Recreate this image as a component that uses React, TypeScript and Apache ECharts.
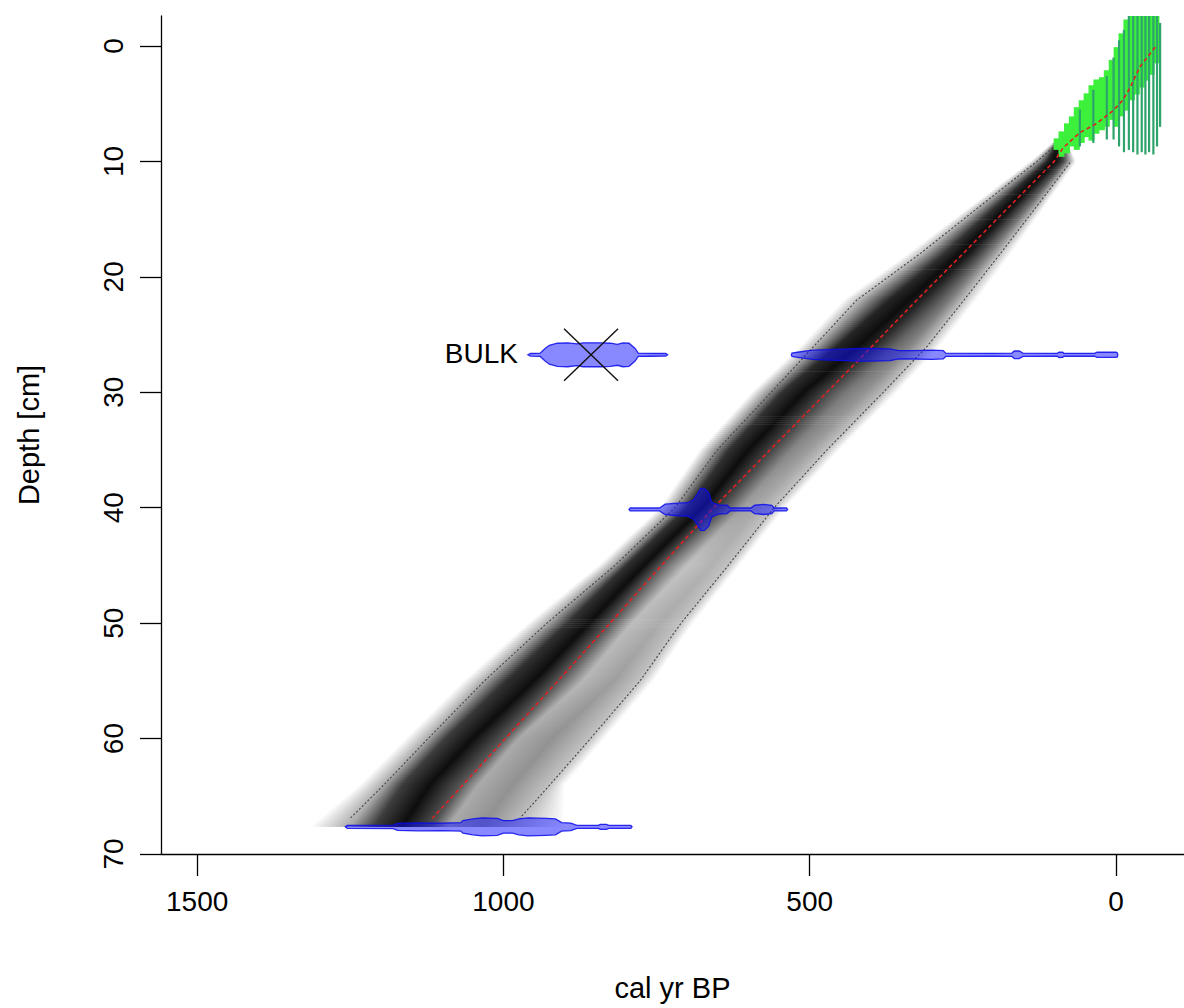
import React, { useEffect, useRef } from "react";
import * as echarts from "echarts";

// ---------- axes ----------
const X_TICKS = [0, 500, 1000, 1500];
const Y_TICKS = [0, 10, 20, 30, 40, 50, 60, 70];
const X_MIN = -111;
const X_MAX = 1559;
const Y_MIN = -2.6;
const Y_MAX = 70;

// ---------- mean age-depth (red dashed) ----------
const MEAN_DEPTH = [0.1, 1.8, 3.6, 4.7, 5.6, 6.7, 7.5, 8.8, 10, 14, 18, 22, 26, 30, 35, 40, 45, 50, 55, 60, 64, 66.9];
const MEAN_AGE = [-64, -39, -23, -11, 5, 31, 59, 86, 101, 176, 250, 325, 398, 472, 565, 657, 742, 826, 911, 997, 1066, 1116];

// ---------- 95% ranges (grey dotted) ----------
const OLD95_DEPTH = [8.8, 10, 14, 18, 22, 26, 30, 35, 40, 45, 50, 55, 60, 64, 66.9];
const OLD95_AGE = [103, 129, 225, 320, 423, 493, 563, 651, 720, 818, 929, 1031, 1123, 1195, 1250];
const YOUNG95_DEPTH = [10.1, 14, 18, 22, 26, 30, 35, 40, 45, 50, 55, 60, 64, 66.9];
const YOUNG95_AGE = [75, 131, 189, 248, 308, 380, 472, 558, 633, 710, 777, 858, 924, 973];

// ---------- grey-scale density rows (ages of profile stops, young -> old) ----------
const GREY_DEPTH = [8.4, 10, 14, 18, 22, 26, 30, 35, 40, 45, 50, 55, 60, 64, 67.6];
const GREY_AGES = [
  [78, 82, 85, 88, 90, 93, 96, 100, 104],
  [65, 75, 85, 92, 97, 103, 112, 129, 140],
  [118, 131, 145, 158, 168, 180, 198, 225, 240],
  [172, 189, 208, 225, 240, 256, 280, 320, 340],
  [228, 248, 272, 292, 315, 338, 370, 423, 445],
  [288, 308, 335, 360, 390, 420, 455, 493, 515],
  [358, 380, 410, 440, 470, 510, 545, 563, 595],
  [452, 472, 500, 530, 560, 600, 632, 651, 680],
  [540, 558, 585, 610, 640, 675, 700, 720, 745],
  [615, 633, 660, 700, 735, 770, 800, 818, 845],
  [690, 710, 745, 790, 820, 860, 895, 929, 960],
  [755, 777, 820, 870, 905, 950, 995, 1031, 1065],
  [835, 858, 920, 975, 1000, 1050, 1095, 1123, 1160],
  [900, 924, 985, 1040, 1070, 1120, 1165, 1195, 1235],
  [900, 973, 1035, 1090, 1115, 1165, 1210, 1250, 1315],
];
const GREY_DARK = [
  [0, 0.4, 0.7, 0.85, 0.95, 1, 0.9, 0.4, 0],
  [0, 0.35, 0.75, 0.9, 0.97, 1, 0.9, 0.35, 0],
  [0, 0.3, 0.6, 0.8, 0.95, 1, 0.85, 0.3, 0],
  [0, 0.25, 0.55, 0.78, 0.95, 1, 0.85, 0.25, 0],
  [0, 0.25, 0.55, 0.72, 0.9, 1, 0.9, 0.25, 0],
  [0, 0.25, 0.5, 0.62, 0.85, 1, 0.9, 0.3, 0],
  [0, 0.28, 0.45, 0.55, 0.75, 1, 0.85, 0.5, 0],
  [0, 0.25, 0.4, 0.5, 0.75, 1, 0.85, 0.5, 0],
  [0, 0.25, 0.35, 0.4, 0.7, 1, 0.85, 0.4, 0],
  [0, 0.25, 0.32, 0.25, 0.6, 1, 0.85, 0.4, 0],
  [0, 0.25, 0.35, 0.28, 0.65, 1, 0.85, 0.35, 0],
  [0, 0.25, 0.4, 0.3, 0.65, 1, 0.85, 0.35, 0],
  [0, 0.25, 0.45, 0.35, 0.7, 1, 0.8, 0.35, 0],
  [0, 0.25, 0.45, 0.35, 0.7, 1, 0.8, 0.35, 0],
  [0, 0.25, 0.45, 0.35, 0.7, 1, 0.8, 0.35, 0],
];

// ---------- 210Pb section (green) ----------
const GREEN_AGE = [97, 89, 80, 72, 64, 56, 48, 40, 32, 23, 15, 7, -1, -9, -17, -26, -34, -42, -50, -58, -66];
const GREEN_TOP = [8.0, 7.4, 6.7, 6.1, 5.3, 4.7, 4.1, 3.4, 2.9, 2.7, 2.1, 1.2, 0.1, -1.1, -2.3, -2.6, -2.6, -2.6, -2.6, -2.6, -2.6];
const GREEN_BOTTOM = [9.0, 9.6, 9.3, 8.7, 9.0, 8.4, 7.9, 8.2, 7.6, 7.3, 7.0, 6.4, 7.0, 6.1, 5.6, 4.7, 4.2, 3.6, 3.0, 2.5, 1.5];
const TEAL_AGE = [59, 37, 15, 4, -5, -13, -21, -28, -35, -42, -48, -54, -61, -67, -72];
const TEAL_TOP = [5.5, 3.8, 2.6, 1.0, -0.5, -1.4, -2.6, -2.6, -2.6, -2.6, -2.6, -2.6, -2.6, -2.6, -2.0];
const TEAL_BOTTOM = [8.7, 8.4, 8.1, 8.1, 8.7, 9.2, 9.0, 9.2, 9.4, 9.2, 9.4, 9.2, 9.4, 8.7, 7.0];

// ---------- dated levels (calibrated probability distributions) ----------
const DATE_DEPTH = [26.75, 26.75, 40.15, 67.65];
const DATE_AGES = [
  [960, 956, 940, 932, 925, 912, 895, 880, 870, 840, 825, 814, 805, 795, 785, 780, 760, 735, 732],
  [530, 529, 520, 495, 470, 439, 420, 400, 369, 355, 331, 300, 282, 278, 200, 170, 166, 158, 152, 96, 93, 87, 85, 35, 31, 0, -2, -3],
  [795, 793, 745, 736, 715, 700, 690, 683, 678, 672, 665, 660, 650, 635, 630, 596, 590, 575, 562, 558, 538, 536],
  [1258, 1255, 1180, 1173, 1140, 1100, 1070, 1066, 1050, 1035, 1010, 1000, 985, 975, 960, 930, 915, 905, 890, 880, 845, 842, 832, 828, 792, 790],
];
const DATE_DENS = [
  [0, 0.06, 0.08, 0.3, 0.45, 0.55, 0.57, 0.52, 0.57, 0.57, 0.55, 0.5, 0.57, 0.55, 0.3, 0.08, 0.07, 0.06, 0],
  [0, 0.08, 0.12, 0.22, 0.25, 0.28, 0.3, 0.3, 0.28, 0.2, 0.2, 0.22, 0.2, 0.08, 0.07, 0.08, 0.18, 0.18, 0.08, 0.07, 0.13, 0.12, 0.07, 0.07, 0.12, 0.12, 0.1, 0],
  [0, 0.07, 0.07, 0.25, 0.3, 0.32, 0.45, 0.75, 1.0, 1.0, 0.8, 0.35, 0.22, 0.2, 0.07, 0.07, 0.2, 0.24, 0.2, 0.07, 0.07, 0],
  [0, 0.07, 0.08, 0.17, 0.19, 0.18, 0.2, 0.3, 0.38, 0.43, 0.4, 0.3, 0.3, 0.38, 0.43, 0.4, 0.38, 0.2, 0.18, 0.07, 0.07, 0.12, 0.12, 0.07, 0.07, 0],
];
const OUTLIER_LABEL = "BULK";
const OUTLIER_AGE = 857;
const OUTLIER_DEPTH = 26.75;
const OUTLIER_LABEL_AGE = 960;

// ---------- styles ----------
const FONT = "'Liberation Sans', Arial, Helvetica, sans-serif";
const DENS_PX = 21;

function greyColor(d: number) {
  const g = Math.round(255 * (1 - 0.95 * Math.max(0, Math.min(1, d))));
  return `rgb(${g},${g},${g})`;
}

export default function App() {
  const ref = useRef<HTMLDivElement>(null);

  useEffect(() => {
    document.body.style.margin = "0";
    document.body.style.overflow = "hidden";
    const chart = echarts.init(ref.current!, null, { renderer: "svg" });

    const greySegments = GREY_DEPTH.slice(0, -1).map((d, i) => [GREY_AGES[i][4], d, i]);

    const renderGrey = (params: any, api: any) => {
      const i = params.dataIndex;
      const d0 = GREY_DEPTH[i];
      const d1 = GREY_DEPTH[i + 1];
      const y0 = api.coord([0, d0])[1];
      const y1 = api.coord([0, d1])[1];
      const n = Math.max(1, Math.ceil((y1 - y0) / 2));
      const children: any[] = [];
      for (let k = 0; k < n; k++) {
        const t = (k + 0.5) / n;
        const depth = d0 + (d1 - d0) * t;
        const pts = GREY_AGES[i]
          .map((a, j) => {
            const age = a + (GREY_AGES[i + 1][j] - a) * t;
            const dk = GREY_DARK[i][j] + (GREY_DARK[i + 1][j] - GREY_DARK[i][j]) * t;
            return { x: api.coord([age, depth])[0], c: greyColor(dk) };
          })
          .sort((a, b) => a.x - b.x);
        const xL = pts[0].x;
        const xR = pts[pts.length - 1].x;
        const w = Math.max(0.01, xR - xL);
        const stops = pts.map((p) => ({ offset: Math.max(0, Math.min(1, (p.x - xL) / w)), color: p.c }));
        const ya = y0 + ((y1 - y0) * k) / n;
        const yb = y0 + ((y1 - y0) * (k + 1)) / n;
        children.push({
          type: "rect",
          silent: true,
          shape: { x: xL, y: ya, width: w, height: yb - ya + 0.7 },
          style: { fill: new echarts.graphic.LinearGradient(xL, 0, xR, 0, stops, true) },
        });
      }
      return { type: "group", children };
    };

    const vLine = (color: string, width: number) => (params: any, api: any) => {
      const a = api.value(0);
      const p0 = api.coord([a, api.value(1)]);
      const p1 = api.coord([a, api.value(2)]);
      return {
        type: "line",
        silent: true,
        shape: { x1: p0[0], y1: p0[1], x2: p1[0], y2: p1[1] },
        style: { stroke: color, lineWidth: width },
      };
    };

    const renderDate = (params: any, api: any) => {
      const i = params.dataIndex;
      const depth = DATE_DEPTH[i];
      const yc = api.coord([0, depth])[1];
      const top: number[][] = [];
      const bot: number[][] = [];
      DATE_AGES[i].forEach((a, j) => {
        const x = api.coord([a, depth])[0];
        const h = DATE_DENS[i][j] * DENS_PX;
        top.push([x, yc - h]);
        bot.push([x, yc + h]);
      });
      return {
        type: "polygon",
        silent: true,
        shape: { points: top.concat(bot.reverse()) },
        style: { fill: "rgba(20,20,255,0.5)", stroke: "rgba(10,10,235,0.85)", lineWidth: 1.3 },
      };
    };

    const renderCross = (params: any, api: any) => {
      const c = api.coord([api.value(0), api.value(1)]);
      const lp = api.coord([OUTLIER_LABEL_AGE, api.value(1)]);
      const hx = 27;
      const hy = 26;
      return {
        type: "group",
        children: [
          { type: "line", shape: { x1: c[0] - hx, y1: c[1] - hy, x2: c[0] + hx, y2: c[1] + hy }, style: { stroke: "#111", lineWidth: 1.4 } },
          { type: "line", shape: { x1: c[0] - hx, y1: c[1] + hy, x2: c[0] + hx, y2: c[1] - hy }, style: { stroke: "#111", lineWidth: 1.4 } },
          {
            type: "text",
            x: lp[0] - 10,
            y: lp[1] - 1,
            style: {
              text: OUTLIER_LABEL,
              fill: "#000",
              font: `28px ${FONT}`,
              align: "right",
              verticalAlign: "middle",
            },
          },
        ],
      };
    };

    const option: any = {
      animation: false,
      backgroundColor: "#ffffff",
      textStyle: { fontFamily: FONT },
      grid: { left: 161, right: 0, top: 16, bottom: 154, containLabel: false },
      xAxis: {
        type: "value",
        min: X_MIN,
        max: X_MAX,
        inverse: true,
        axisLine: { show: true, onZero: false, lineStyle: { color: "#000", width: 1.3 } },
        axisTick: { show: true, length: 22, customValues: X_TICKS, lineStyle: { color: "#000", width: 1.3 } },
        axisLabel: {
          customValues: X_TICKS,
          formatter: (v: number) => String(v),
          fontSize: 28,
          color: "#000",
          margin: 33,
          fontFamily: FONT,
        },
        splitLine: { show: false },
        name: "cal yr BP",
        nameLocation: "middle",
        nameGap: 119,
        nameTextStyle: { fontSize: 29, color: "#000", fontFamily: FONT },
      },
      yAxis: {
        type: "value",
        min: Y_MIN,
        max: Y_MAX,
        inverse: true,
        axisLine: { show: true, onZero: false, lineStyle: { color: "#000", width: 1.3 } },
        axisTick: { show: true, length: 21, customValues: Y_TICKS, lineStyle: { color: "#000", width: 1.3 } },
        axisLabel: {
          customValues: Y_TICKS,
          formatter: (v: number) => String(v),
          rotate: 90,
          fontSize: 28,
          color: "#000",
          margin: 34,
          fontFamily: FONT,
        },
        splitLine: { show: false },
        name: "Depth [cm]",
        nameLocation: "middle",
        nameGap: 118,
        nameTextStyle: { fontSize: 29, color: "#000", fontFamily: FONT },
      },
      series: [
        {
          type: "custom",
          name: "density",
          z: 1,
          clip: true,
          renderItem: renderGrey,
          encode: { x: 0, y: 1 },
          data: greySegments,
        },
        {
          type: "line",
          name: "old95",
          z: 2,
          symbol: "none",
          lineStyle: { color: "#444", width: 1.1, type: [2, 2] },
          data: OLD95_DEPTH.map((d, i) => [OLD95_AGE[i], d]),
        },
        {
          type: "line",
          name: "young95",
          z: 2,
          symbol: "none",
          lineStyle: { color: "#444", width: 1.1, type: [2, 2] },
          data: YOUNG95_DEPTH.map((d, i) => [YOUNG95_AGE[i], d]),
        },
        {
          type: "custom",
          name: "pb-green",
          z: 3,
          clip: true,
          renderItem: vLine("#3cf03c", 6),
          encode: { x: 0, y: 1 },
          data: GREEN_AGE.map((a, i) => [a, GREEN_TOP[i], GREEN_BOTTOM[i]]),
        },
        {
          type: "custom",
          name: "pb-teal",
          z: 3,
          clip: true,
          renderItem: vLine("#2ea46c", 2.2),
          encode: { x: 0, y: 1 },
          data: TEAL_AGE.map((a, i) => [a, TEAL_TOP[i], TEAL_BOTTOM[i]]),
        },
        {
          type: "line",
          name: "mean",
          z: 4,
          symbol: "none",
          lineStyle: { color: "#e02020", width: 1.6, type: [4, 3] },
          data: MEAN_DEPTH.map((d, i) => [MEAN_AGE[i], d]),
        },
        {
          type: "custom",
          name: "dates",
          z: 5,
          clip: true,
          renderItem: renderDate,
          encode: { x: 0, y: 1 },
          data: DATE_DEPTH.map((d, i) => [DATE_AGES[i][0], d]),
        },
        {
          type: "custom",
          name: "outlier",
          z: 6,
          renderItem: renderCross,
          encode: { x: 0, y: 1 },
          data: [[OUTLIER_AGE, OUTLIER_DEPTH]],
        },
      ],
    };

    chart.setOption(option);
    return () => chart.dispose();
  }, []);

  return <div ref={ref} style={{ width: 1184, height: 1008 }} />;
}
